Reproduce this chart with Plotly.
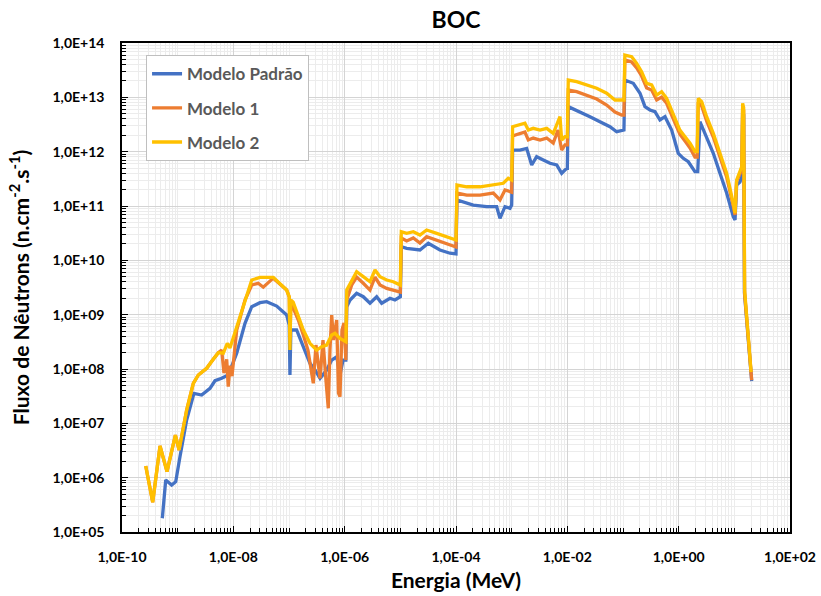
import plotly.graph_objects as go

# ---------------- data ----------------
series_names = ["Modelo Padrão", "Modelo 1", "Modelo 2"]
series_colors = ["#4472C4", "#ED7D31", "#FFC000"]

energia_padrao = [5.3e-10, 6.1e-10, 7.8e-10, 9.23e-10, 1.1e-9, 1.45e-9, 1.96e-9, 2.7e-9, 3.81e-9, 4.69e-9,
                  6.18e-9, 8.1e-9, 1.15e-8, 1.62e-8, 2.14e-8, 3.01e-8, 3.97e-8, 6.01e-8, 9.08e-8, 1.01e-7,
                  1.04e-7, 1.08e-7, 1.37e-7, 1.81e-7, 2.38e-7, 2.93e-7, 3.61e-7, 4.75e-7, 5.85e-7, 7.19e-7,
                  8.24e-7, 9.33e-7, 1.05e-6, 1.09e-6, 1.25e-6, 1.64e-6, 2.16e-6, 2.85e-6, 3.76e-6, 4.62e-6,
                  6.52e-6, 8.0e-6, 1.0e-5, 1.04e-5, 1.3e-5, 2.25e-5, 3.18e-5, 5.15e-5, 7.8e-5, 1.0e-4,
                  1.04e-4, 2.04e-4, 3.56e-4, 5.38e-4, 6.17e-4, 7.59e-4, 9.33e-4, 1.0e-3, 1.04e-3, 1.41e-3,
                  1.86e-3, 2.29e-3, 2.81e-3, 3.7e-3, 4.88e-3, 6.44e-3, 7.91e-3, 9.73e-3, 1.0e-2, 1.04e-2,
                  1.69e-2, 2.55e-2, 3.85e-2, 5.83e-2, 7.69e-2, 9.46e-2, 0.104, 0.108, 0.153, 0.202,
                  0.248, 0.305, 0.375, 0.461, 0.568, 0.748, 0.984, 1.21, 1.49, 1.96,
                  2.2, 2.41, 3.18, 4.19, 5.52, 7.28, 9.57, 10.3, 11.0, 12.6,
                  13.6, 14.1, 14.7, 15.2, 20.5]
fluxo_padrao = [1.79e5, 9.06e5, 7.33e5, 8.42e5, 2.43e6, 1.15e7, 3.56e7, 3.32e7, 4.41e7, 6.08e7,
                6.73e7, 7.75e7, 1.95e8, 6.93e8, 1.4e9, 1.66e9, 1.73e9, 1.44e9, 9.86e8, 6.45e8,
                7.75e7, 5.22e8, 5.22e8, 2.57e8, 1.27e8, 9.58e7, 6.73e7, 9.58e7, 1.46e8, 1.68e8,
                7.75e7, 1.46e8, 1.46e8, 1.4e9, 1.86e9, 2.47e9, 2.14e9, 1.62e9, 2.14e9, 1.62e9,
                2.0e9, 1.86e9, 2.14e9, 1.78e10, 1.66e10, 1.55e10, 2.06e10, 1.55e10, 1.35e10, 1.31e10,
                1.29e11, 1.04e11, 9.7e10, 9.7e10, 5.93e10, 9.7e10, 9.06e10, 1.04e11, 1.07e12, 1.07e12,
                1.15e12, 5.68e11, 8.08e11, 7.03e11, 6.11e11, 5.68e11, 4.0e11, 4.94e11, 4.94e11, 6.73e12,
                5.44e12, 4.4e12, 3.56e12, 2.88e12, 2.33e12, 2.5e12, 2.5e12, 2.08e13, 1.81e13, 1.19e13,
                6.73e12, 5.85e12, 5.44e12, 3.83e12, 4.4e12, 2.5e12, 9.33e11, 7.55e11, 6.53e11, 4.28e11,
                4.28e11, 3.56e12, 1.88e12, 9.33e11, 4.0e11, 1.73e11, 6.35e10, 5.52e10, 2.43e11, 2.77e11,
                3.5e11, 5.5e12, 4.8e12, 2.5e9, 6.0e7]

energia_m1 = [2.67e-10, 3.56e-10, 4.82e-10, 6.43e-10, 9.1e-10, 1.06e-9, 1.45e-9, 1.91e-9, 2.35e-9, 3.32e-9,
              4.26e-9, 5.37e-9, 6.18e-9, 6.79e-9, 7.6e-9, 8.1e-9, 8.7e-9, 9.46e-9, 1.15e-8, 1.62e-8,
              2.14e-8, 2.8e-8, 3.45e-8, 4.56e-8, 5.22e-8, 9.08e-8, 1.01e-7, 1.04e-7, 1.08e-7, 1.19e-7,
              1.47e-7, 1.81e-7, 2.19e-7, 2.73e-7, 3.05e-7, 3.61e-7, 4.08e-7, 4.61e-7, 5.08e-7, 5.44e-7,
              5.85e-7, 6.29e-7, 7.19e-7, 7.74e-7, 8.24e-7, 8.95e-7, 9.73e-7, 1.05e-6, 1.09e-6, 1.34e-6,
              1.64e-6, 2.16e-6, 2.85e-6, 3.51e-6, 4.31e-6, 5.69e-6, 7.46e-6, 1.0e-5, 1.04e-5, 1.3e-5,
              1.71e-5, 2.25e-5, 2.97e-5, 4.5e-5, 6.81e-5, 1.0e-4, 1.04e-4, 1.56e-4, 2.7e-4, 4.68e-4,
              6.17e-4, 7.59e-4, 1.0e-3, 1.04e-3, 1.32e-3, 1.73e-3, 1.99e-3, 2.44e-3, 3.23e-3, 4.26e-3,
              5.58e-3, 6.8e-3, 7.91e-3, 9.08e-3, 1.0e-2, 1.04e-2, 1.47e-2, 2.22e-2, 3.37e-2, 5.09e-2,
              7.18e-2, 9.46e-2, 0.104, 0.108, 0.143, 0.176, 0.216, 0.266, 0.327, 0.403,
              0.494, 0.608, 0.8, 1.05, 1.3, 1.6, 1.96, 2.15, 2.25, 2.59,
              3.18, 4.19, 5.52, 7.28, 9.57, 10.3, 11.0, 12.3, 13.6, 14.1,
              14.7, 15.3, 20.5]
fluxo_m1 = [1.64e6, 3.52e5, 3.82e6, 1.29e6, 6.09e6, 3.23e6, 1.76e7, 5.45e7, 7.75e7, 1.03e8,
            1.46e8, 2.0e8, 2.23e8, 8.43e7, 1.5e8, 4.72e7, 1.15e8, 7.4e7, 5.22e8, 1.86e9,
            3.52e9, 3.78e9, 3.2e9, 4.04e9, 4.7e9, 2.84e9, 2.1e9, 3.41e8, 1.6e9, 1.32e9,
            7.97e8, 4.22e8, 2.23e8, 5.45e7, 2.76e8, 6.7e7, 3.41e8, 6.27e7, 1.89e7, 2.23e8,
            9.86e8, 3.41e8, 7.97e8, 3.61e7, 3.09e7, 5.22e8, 7.0e8, 1.46e8, 1.86e9, 3.52e9,
            4.93e9, 3.78e9, 2.84e9, 4.93e9, 3.52e9, 3.05e9, 2.84e9, 2.61e9, 2.58e10, 2.27e10,
            2.58e10, 2.08e10, 2.72e10, 2.37e10, 2.0e10, 1.76e10, 1.73e11, 1.59e11, 1.59e11, 1.73e11,
            1.29e11, 1.97e11, 1.8e11, 1.94e12, 2.11e12, 2.3e12, 1.64e12, 1.78e12, 1.64e12, 1.78e12,
            1.44e12, 2.5e12, 1.07e12, 1.33e12, 1.33e12, 1.36e13, 1.27e13, 1.1e13, 9.31e12, 7.22e12,
            5.37e12, 4.73e12, 4.73e12, 4.87e13, 4.47e13, 3.47e13, 2.47e13, 1.49e13, 1.36e13, 8.93e12,
            1.01e13, 7.76e12, 4.17e12, 2.11e12, 1.57e12, 1.17e12, 7.98e11, 7.98e11, 8.2e12, 6.92e12,
            3.67e12, 1.86e12, 7.98e11, 3.42e11, 1.0e11, 6.83e10, 2.88e11, 3.56e11, 4.6e11, 6.73e12,
            5.8e12, 2.5e9, 6.27e7]

energia_m2 = [2.67e-10, 3.56e-10, 4.82e-10, 6.43e-10, 9.1e-10, 1.06e-9, 1.45e-9, 1.91e-9, 2.35e-9, 3.32e-9,
              4.26e-9, 5.37e-9, 6.6e-9, 7.8e-9, 8.7e-9, 1.15e-8, 1.62e-8, 2.14e-8, 3.01e-8, 4.56e-8,
              5.22e-8, 9.08e-8, 1.01e-7, 1.04e-7, 1.08e-7, 1.19e-7, 1.47e-7, 1.81e-7, 2.38e-7, 3.14e-7,
              3.86e-7, 4.75e-7, 5.85e-7, 6.7e-7, 8.24e-7, 1.05e-6, 1.09e-6, 1.34e-6, 1.64e-6, 2.16e-6,
              2.85e-6, 3.51e-6, 4.31e-6, 5.69e-6, 7.46e-6, 1.0e-5, 1.04e-5, 1.3e-5, 1.71e-5, 2.25e-5,
              2.97e-5, 4.5e-5, 6.81e-5, 1.0e-4, 1.04e-4, 1.56e-4, 2.7e-4, 4.68e-4, 7.06e-4, 8.69e-4,
              1.0e-3, 1.04e-3, 1.32e-3, 1.73e-3, 1.99e-3, 2.44e-3, 3.23e-3, 4.26e-3, 5.58e-3, 7.38e-3,
              7.91e-3, 9.08e-3, 1.0e-2, 1.04e-2, 1.47e-2, 2.22e-2, 3.37e-2, 5.09e-2, 7.18e-2, 9.46e-2,
              0.104, 0.108, 0.143, 0.176, 0.216, 0.266, 0.327, 0.403, 0.494, 0.608,
              0.8, 1.05, 1.3, 1.6, 1.96, 2.15, 2.25, 2.59, 3.18, 4.19,
              5.52, 7.28, 9.57, 10.3, 11.0, 12.3, 13.6, 14.1, 14.7, 15.3,
              20.0]
fluxo_m2 = [1.64e6, 3.52e5, 3.82e6, 1.29e6, 6.09e6, 3.23e6, 1.76e7, 5.45e7, 7.75e7, 1.03e8,
            1.46e8, 2.0e8, 1.95e8, 2.97e8, 2.43e8, 6.0e8, 1.86e9, 4.34e9, 4.87e9, 5.0e9,
            4.87e9, 2.84e9, 2.14e9, 2.23e8, 1.86e9, 1.7e9, 9.17e8, 5.22e8, 2.97e8, 2.23e8,
            2.57e8, 2.76e8, 4.22e8, 4.54e8, 3.67e8, 3.18e8, 2.84e9, 4.34e9, 6.18e9, 5.0e9,
            4.04e9, 6.64e9, 5.0e9, 4.34e9, 4.04e9, 3.5e9, 3.36e10, 3.14e10, 3.36e10, 2.92e10,
            3.61e10, 3.14e10, 2.72e10, 2.37e10, 2.43e11, 2.26e11, 2.26e11, 2.43e11, 2.62e11, 3.24e11,
            3.01e11, 2.88e12, 3.1e12, 3.33e12, 2.5e12, 2.69e12, 2.5e12, 2.69e12, 2.18e12, 4.4e12,
            1.64e12, 1.88e12, 1.88e12, 2.08e13, 1.94e13, 1.69e13, 1.47e13, 1.19e13, 8.93e12, 8.93e12,
            8.93e12, 6.0e13, 5.6e13, 4.23e13, 2.96e13, 1.81e13, 1.69e13, 1.1e13, 1.27e13, 9.6e12,
            5.08e12, 2.5e12, 1.88e12, 1.43e12, 1.0e12, 1.0e12, 9.6e12, 8.3e12, 4.4e12, 2.18e12,
            9.33e11, 4.0e11, 1.12e11, 7.33e10, 3.01e11, 4.0e11, 5.3e11, 7.76e12, 6.5e12, 2.84e9,
            8.8e7]

x_tick_vals = [1e-10, 1e-8, 1e-6, 1e-4, 1e-2, 1e0, 1e2]
x_tick_text = ["1,0E-10", "1,0E-08", "1,0E-06", "1,0E-04", "1,0E-02", "1,0E+00", "1,0E+02"]
y_tick_vals = [1e5, 1e6, 1e7, 1e8, 1e9, 1e10, 1e11, 1e12, 1e13, 1e14]
y_tick_text = ["1,0E+05", "1,0E+06", "1,0E+07", "1,0E+08", "1,0E+09",
               "1,0E+10", "1,0E+11", "1,0E+12", "1,0E+13", "1,0E+14"]

# ---------------- figure ----------------
FONT = "Lato"
energies = [energia_padrao, energia_m1, energia_m2]
fluxes = [fluxo_padrao, fluxo_m1, fluxo_m2]

fig = go.Figure()
for name, color, ex, fy in zip(series_names, series_colors, energies, fluxes):
    fig.add_trace(go.Scatter(
        x=ex, y=fy, mode="lines", name=name, legendgroup=name,
        line=dict(color=color, width=3.3),
    ))

x_minor = [k * 10.0 ** n for n in range(-10, 2) for k in range(1, 10)
           if not (k == 1 and n % 2 == 0)]
y_minor = [k * 10.0 ** n for n in range(5, 14) for k in range(2, 10)]

fig.update_layout(
    width=821, height=596,
    margin=dict(l=122, r=31, t=43, b=64),
    paper_bgcolor="white", plot_bgcolor="white",
    font=dict(family=FONT, color="black"),
    title=dict(text="BOC", x=0.5, xref="paper", xanchor="center",
               y=1 - 20 / 596, yref="container", yanchor="middle",
               font=dict(family=FONT, size=23, weight="bold", color="black")),
    showlegend=True,
    legend=dict(x=0.036, y=0.975, xanchor="left", yanchor="top",
                bgcolor="white", bordercolor="#bfbfbf", borderwidth=1,
                tracegroupgap=9, traceorder="grouped",
                font=dict(family=FONT, size=17, weight="bold", color="#595959")),
    xaxis=dict(
        type="log", range=[-10, 2], automargin=False,
        tickmode="array", tickvals=x_tick_vals, ticktext=x_tick_text,
        tickfont=dict(family=FONT, size=14, weight="bold", color="black"),
        ticks="inside", ticklen=6, tickcolor="black", ticklabelstandoff=11,
        showgrid=True, gridcolor="#d4d4d4", gridwidth=1,
        minor=dict(tickmode="array", tickvals=x_minor, showgrid=True,
                   gridcolor="#ececec", ticks="inside", ticklen=4, tickcolor="black"),
        showline=True, linecolor="black", linewidth=1.5, mirror=True,
        zeroline=False,
        title=dict(text="Energia (MeV)", standoff=10,
                   font=dict(family=FONT, size=21, weight="bold", color="black")),
    ),
    yaxis=dict(
        type="log", range=[5, 14], automargin=False,
        tickmode="array", tickvals=y_tick_vals, ticktext=y_tick_text,
        tickfont=dict(family=FONT, size=14, weight="bold", color="black"),
        ticks="inside", ticklen=6, tickcolor="black", ticklabelstandoff=13,
        showgrid=True, gridcolor="#d4d4d4", gridwidth=1,
        minor=dict(tickmode="array", tickvals=y_minor, showgrid=True,
                   gridcolor="#ececec", ticks="inside", ticklen=4, tickcolor="black"),
        showline=True, linecolor="black", linewidth=1.5, mirror=True,
        zeroline=False,
        title=dict(text="Fluxo de Nêutrons (n.cm<sup>-2</sup>.s<sup>-1</sup>)", standoff=17,
                   font=dict(family=FONT, size=21, weight="bold", color="black")),
    ),
)

fig.write_html("out.html")
